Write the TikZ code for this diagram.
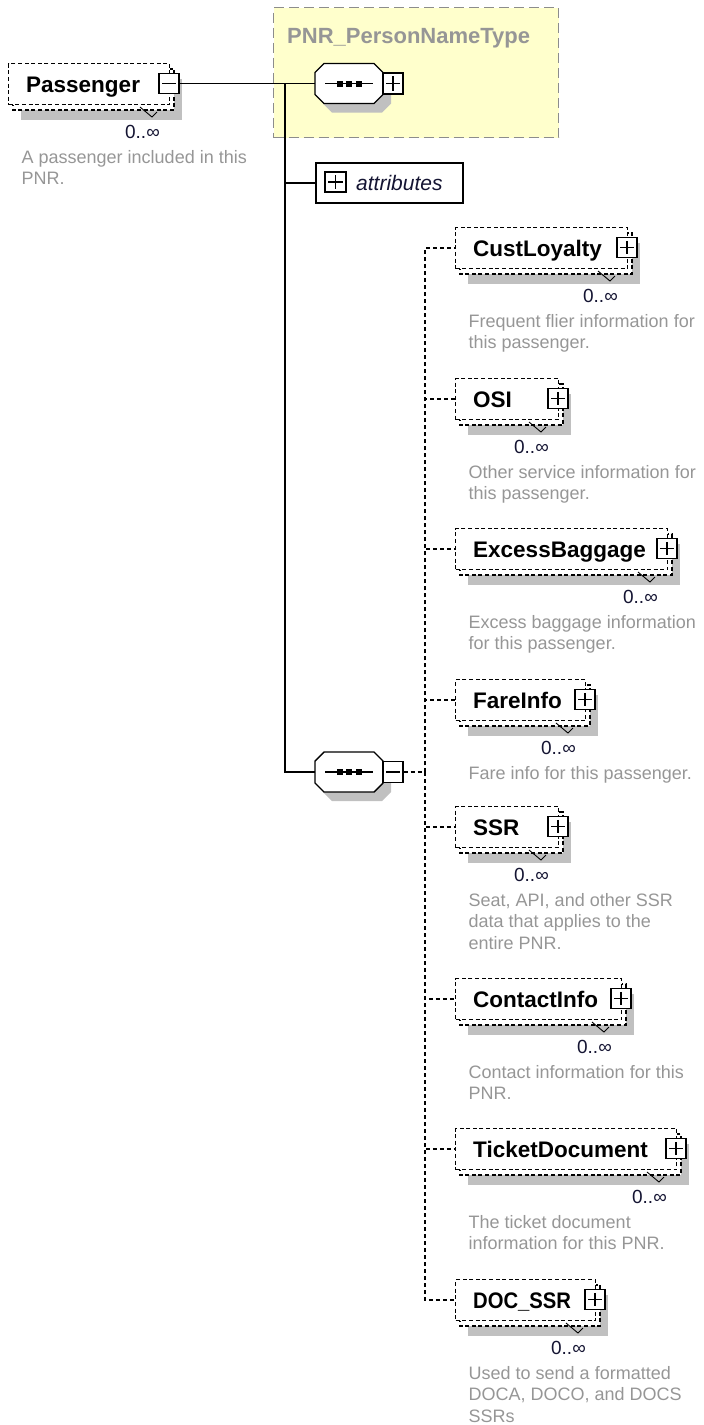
\documentclass[tikz,border=0pt]{standalone}
\usepackage{fontspec}
\setmainfont{Liberation Sans}
\usetikzlibrary{calc}
\definecolor{descc}{RGB}{150,150,150}
\definecolor{shadc}{RGB}{192,192,192}
\definecolor{yellowc}{RGB}{255,255,204}
\definecolor{yborder}{RGB}{140,140,140}
\definecolor{multc}{RGB}{20,20,50}
\tikzset{
  elemline/.style={draw=black, line width=1.4pt, dash pattern=on 4pt off 2.6pt},
  solidc/.style={draw=black, line width=1.8pt},
  dashc/.style={draw=black, line width=1.5pt, dash pattern=on 4pt off 3pt},
  pmbox/.style={draw=black, fill=white, line width=1.4pt, minimum width=20pt, minimum height=20pt, inner sep=0pt},
  lbl/.style={font=\fontsize{22.5}{26}\selectfont\bfseries, inner sep=0pt, anchor=base west},
  mult/.style={font=\fontsize{19}{22}\selectfont, text=multc, inner sep=0pt, anchor=base east},
  desc/.style={font=\fontsize{18}{21.6}\selectfont, text=descc, inner sep=0pt, anchor=north west, align=left},
}
\newcommand\pmplus[1]{%
  \draw[line width=1.4pt] ([xshift=4pt]#1.west) -- ([xshift=-4pt]#1.east);
  \draw[line width=1.4pt] ([yshift=-4pt]#1.north) -- ([yshift=4pt]#1.south);}
\newcommand\pmminus[1]{%
  \draw[line width=1.4pt] ([xshift=4pt]#1.west) -- ([xshift=-4pt]#1.east);}
% #1 name, #2 left, #3 top, #4 right, #5 label, #6 plus/minus, #7 description
\newcommand\xelem[7]{%
  \fill[shadc] ({#2+13},{#3+16}) rectangle ({#4+13},{#3+57});
  \draw[elemline, fill=white] ({#2+5},{#3+6}) rectangle ({#4+5},{#3+47});
  \draw[line width=0.9pt] ({#4-29},{#3+44}) -- ({#4-17},{#3+54}) -- ({#4-12},{#3+49});
  \node[elemline, fill=white, rectangle, minimum width={#4-#2}, minimum height=41pt, inner sep=0pt, anchor=north west] (#1) at (#2,#3) {};
  \node[lbl] (#1-l) at ({#2+18},{#3+29}) {#5};
  \node[pmbox] (#1-pm) at (#4,{#3+20.5}) {};
  #6{#1-pm}
  \node[mult] (#1-m) at ({#4-9},{#3+75}) {0..∞};
  \node[desc] (#1-d) at ({#2+13.5},{#3+86}) {\rule{0pt}{14pt}#7};
}
% #1 name, #2 cx, #3 cy, #4 plus/minus
\newcommand\xseq[4]{%
  \begin{scope}[shift={(8,9)}]
    \fill[shadc] ({#2-34},{#3-11}) -- ({#2-25},{#3-20}) -- ({#2+25},{#3-20}) -- ({#2+34},{#3-11}) -- ({#2+34},{#3+11}) -- ({#2+25},{#3+20}) -- ({#2-25},{#3+20}) -- ({#2-34},{#3+11}) -- cycle;
  \end{scope}
  \node[minimum width=68pt, minimum height=40pt, inner sep=0pt] (#1) at (#2,#3) {};
  \draw[line width=1.4pt, fill=white] ({#2-34},{#3-11}) -- ({#2-25},{#3-20}) -- ({#2+25},{#3-20}) -- ({#2+34},{#3-11}) -- ({#2+34},{#3+11}) -- ({#2+25},{#3+20}) -- ({#2-25},{#3+20}) -- ({#2-34},{#3+11}) -- cycle;
  \draw[line width=1.4pt] ({#2-24},#3) -- ({#2+24},#3);
  \foreach \dx in {-9.5,-0.5,9.5} \fill ({#2+\dx-3},{#3-3}) rectangle ({#2+\dx+3},{#3+3});
  \node[pmbox, minimum height=21pt] (#1-pm) at ({#2+44},#3) {};
  #4{#1-pm}
}
\begin{document}
\begin{tikzpicture}[x=1pt,y=-1pt]
\useasboundingbox (0,0) rectangle (704,1425);
% complex type frame
\node[draw=yborder, fill=yellowc, line width=1.4pt, dash pattern=on 10pt off 5pt, minimum width=285pt, minimum height=130pt, anchor=north west, inner sep=0pt] (ptype) at (273,7) {};
\node[font=\fontsize{22}{26}\selectfont\bfseries, text=descc, anchor=base west, inner sep=0pt] (ptype-t) at (287,43) {PNR\_PersonNameType};
% sequences
\xseq{seqA}{349}{83.5}{\pmplus}
\xseq{seqB}{349}{772}{\pmminus}
% attributes
\node[draw=black, line width=1.6pt, minimum width=147pt, minimum height=40pt, anchor=north west, inner sep=0pt] (attr) at (315,162) {};
\node[pmbox, minimum width=21pt] (attr-pm) at (335.5,182) {};
\pmplus{attr-pm}
\node[font=\fontsize{21}{24}\selectfont\itshape, text=multc, anchor=base west, inner sep=0pt] (attr-l) at (356,190) {attributes};
% elements
\xelem{pass}{8}{63}{169}{Passenger}{\pmminus}{A passenger included in this\\PNR.}
\xelem{cust}{455}{227}{627}{CustLoyalty}{\pmplus}{Frequent flier information for\\this passenger.}
\xelem{osi}{455}{378}{558}{OSI}{\pmplus}{Other service information for\\this passenger.}
\xelem{exb}{455}{528}{667}{ExcessBaggage}{\pmplus}{Excess baggage information\\for this passenger.}
\xelem{fare}{455}{679}{585}{FareInfo}{\pmplus}{Fare info for this passenger.}
\xelem{ssr}{455}{806}{558}{SSR}{\pmplus}{Seat, API, and other SSR\\data that applies to the\\entire PNR.}
\xelem{cont}{455}{978}{621}{ContactInfo}{\pmplus}{Contact information for this\\PNR.}
\xelem{tick}{455}{1128}{676}{TicketDocument}{\pmplus}{The ticket document\\information for this PNR.}
\xelem{doc}{455}{1279}{595}{\scalebox{0.9}[1]{DOC\_SSR}}{\pmplus}{Used to send a formatted\\DOCA, DOCO, and DOCS\\SSRs}
% connectors
\coordinate (jA) at (285,83.5);
\draw[solidc] (pass-pm.east) -- (seqA.west);
\draw[solidc] (jA) |- (attr.west);
\draw[solidc] (jA) |- (seqB.west);
\coordinate (bus) at (425,772);
\draw[dashc] (seqB-pm.east) -- (bus);
\foreach \n in {cust,osi,exb,fare,ssr,cont,tick,doc} \draw[dashc] (bus) |- (\n.west);
\end{tikzpicture}
\end{document}
